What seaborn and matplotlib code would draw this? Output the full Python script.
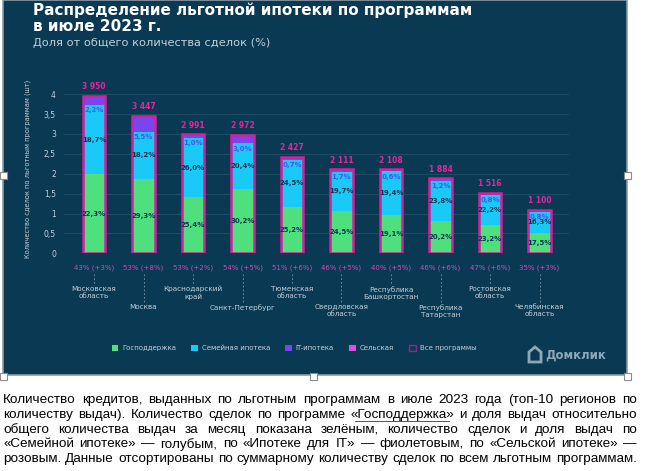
import numpy as np
import pandas as pd
import matplotlib
matplotlib.use("Agg")
import matplotlib.pyplot as plt
from matplotlib.patches import Rectangle, Polygon
from matplotlib.lines import Line2D
import seaborn as sns

# Данные (тыс. сделок)
regions = ["Московская\nобласть", "Москва", "Краснодарский\nкрай", "Санкт-Петербург",
           "Тюменская\nобласть", "Свердловская\nобласть", "Республика\nБашкортостан",
           "Республика\nТатарстан", "Ростовская\nобласть", "Челябинская\nобласть"]
gov = [2.00, 1.87, 1.41, 1.62, 1.16, 1.07, 0.96, 0.80, 0.71, 0.50]
family = [1.72, 1.19, 1.49, 1.14, 1.19, 0.98, 1.10, 1.02, 0.75, 0.55]
it = [0.20, 0.36, 0.07, 0.19, 0.05, 0.04, 0.03, 0.03, 0.03, 0.02]
rural = [0.03, 0.03, 0.02, 0.02, 0.03, 0.02, 0.02, 0.03, 0.03, 0.03]
totals = [3950, 3447, 2991, 2972, 2427, 2111, 2108, 1884, 1516, 1100]

gov_pct = ["22,3%", "29,3%", "25,4%", "30,2%", "25,2%", "24,5%", "19,1%", "20,2%", "23,2%", "17,5%"]
family_pct = ["18,7%", "18,2%", "26,0%", "20,4%", "24,5%", "19,7%", "19,4%", "23,8%", "22,2%", "16,3%"]
it_pct = ["2,2%", "5,5%", "1,0%", "3,0%", "0,7%", "1,7%", "0,6%", "1,2%", "0,8%", "0,8%"]
share = ["43% (+3%)", "53% (+8%)", "53% (+2%)", "54% (+5%)", "51% (+6%)",
         "46% (+5%)", "40% (+5%)", "46% (+6%)", "47% (+6%)", "35% (+3%)"]
yticks = [0, 0.5, 1, 1.5, 2, 2.5, 3, 3.5, 4]
ytick_labels = ["0", "0,5", "1", "1,5", "2", "2,5", "3", "3,5", "4"]

paragraph = [
    "Количество кредитов, выданных по льготным программам в июле 2023 года (топ-10 регионов по",
    "количеству выдач). Количество сделок по программе «Господдержка» и доля выдач относительно",
    "общего количества выдач за месяц показана зелёным, количество сделок и доля выдач по",
    "«Семейной ипотеке» — голубым, по «Ипотеке для IT» — фиолетовым, по «Сельской ипотеке» —",
    "розовым. Данные отсортированы по суммарному количеству сделок по всем льготным программам.",
]

# Цвета
NAVY = "#0a3954"
GREEN = "#4fe07e"
BLUE = "#19c9f7"
PURPLE = "#7a45f0"
PINK = "#e24ce6"
EDGE = "#d1219c"
LIGHT = "#c3cfd8"

W, H = 649, 471


def fx(x):
    return x / W


def fy(y):
    return 1 - y / H


df = pd.DataFrame({"region": regions, "gov": gov, "family": family, "it": it, "rural": rural})
df["total"] = np.array(totals) / 1000
# накопленные уровни для стопки
df["c1"] = df["gov"]
df["c2"] = df["c1"] + df["family"]
df["c3"] = df["c2"] + df["it"]
df["c4"] = df["c3"] + df["rural"]

fig = plt.figure(figsize=(W / 100, H / 100), dpi=100)
fig.patch.set_facecolor("white")

# тёмная подложка картинки
fig.patches.append(Rectangle((fx(3), fy(375)), fx(624), 375 / H, transform=fig.transFigure,
                             facecolor=NAVY, edgecolor="#8d9ba5", lw=1.2, zorder=-10))

# Заголовок
fig.text(fx(33), fy(2), "Распределение льготной ипотеки по программам\nв июле 2023 г.",
         color="white", fontsize=11, fontweight="bold", va="top", ha="left", linespacing=1.15)
fig.text(fx(33), fy(43), "Доля от общего количества сделок (%)", color=LIGHT, fontsize=8.2,
         va="center", ha="left")

ax = fig.add_axes([fx(64.3), fy(253.3), 504.9 / W, 169.1 / H])
ax.set_zorder(2)
ax.set_facecolor("none")

bw = 0.46
for col, c in [("c4", PINK), ("c3", PURPLE), ("c2", BLUE), ("c1", GREEN)]:
    sns.barplot(data=df, x="region", y=col, color=c, saturation=1, width=bw,
                errorbar=None, linewidth=0, ax=ax, zorder=3)
sns.barplot(data=df, x="region", y="total", color=EDGE, fill=False, width=bw,
            errorbar=None, linewidth=1.8, ax=ax, zorder=4)

ax.set_xlim(-0.6, 9.6)
ax.set_ylim(0, 4.25)
ax.set_yticks(yticks)
ax.set_yticklabels(ytick_labels, color=LIGHT, fontsize=5.5)
ax.set_xticks([])
ax.set_xlabel("")
ax.set_ylabel("Количество сделок по льготным программам (шт)", color=LIGHT, fontsize=4.8, labelpad=9)
ax.tick_params(axis="y", length=0, pad=6)
for s in ax.spines.values():
    s.set_visible(False)
ax.grid(axis="y", color="#245069", lw=0.6, zorder=0)
ax.set_axisbelow(True)

for i, row in df.iterrows():
    ax.text(i, row["c4"] + 0.12, f"{totals[i]:,}".replace(",", " "), color="#e3279b",
            fontsize=5.5, fontweight="bold", ha="center", va="bottom")
    ax.text(i, row["c1"] / 2, gov_pct[i], color="#0b3550", fontsize=5, fontweight="bold",
            ha="center", va="center", zorder=5)
    ax.text(i, (row["c1"] + row["c2"]) / 2, family_pct[i], color="#0b3550", fontsize=5,
            fontweight="bold", ha="center", va="center", zorder=5)
    ax.text(i, row["c2"] - 0.13, it_pct[i], color="#4a55e8", fontsize=5, fontweight="bold",
            ha="center", va="center", zorder=5)

# подписи под осью
for i, name in enumerate(regions):
    xpix = 94 + 49.5 * i
    fig.text(fx(xpix), fy(267.5), share[i], color="#c84db8", fontsize=5, ha="center", va="center")
    low = i % 2 == 1
    y_end = 302 if low else 285
    fig.lines.append(Line2D([fx(xpix), fx(xpix)], [fy(274), fy(y_end)], transform=fig.transFigure,
                            color="#7f98a8", lw=0.6, ls=(0, (2, 2.5))))
    fig.text(fx(xpix), fy(304 if low else 286), name, color=LIGHT, fontsize=5.2,
             ha="center", va="top", linespacing=1.2)

# Легенда
handles = [
    Rectangle((0, 0), 1, 1, facecolor=GREEN, edgecolor="none"),
    Rectangle((0, 0), 1, 1, facecolor=BLUE, edgecolor="none"),
    Rectangle((0, 0), 1, 1, facecolor=PURPLE, edgecolor="none"),
    Rectangle((0, 0), 1, 1, facecolor=PINK, edgecolor="none"),
    Rectangle((0, 0), 1, 1, facecolor="none", edgecolor="#9a2387", lw=1),
]
labels = ["Господдержка", "Семейная ипотека", "IT-ипотека", "Сельская", "Все программы"]
leg = fig.legend(handles, labels, loc="center", bbox_to_anchor=(fx(294), fy(348)), ncol=5,
                 frameon=False, fontsize=5, handlelength=0.9, handleheight=0.9,
                 handletextpad=0.6, columnspacing=2.2)
for t in leg.get_texts():
    t.set_color(LIGHT)

# логотип
fig.patches.append(Polygon([(fx(529), fy(362)), (fx(529), fy(352)), (fx(535), fy(347)),
                            (fx(541), fy(352)), (fx(541), fy(362))], closed=True,
                           transform=fig.transFigure, facecolor="none", edgecolor="#8fa8b8", lw=2))
fig.text(fx(545), fy(355), "Домклик", color="#8fa8b8", fontsize=8.5, fontweight="bold",
         ha="left", va="center")

# маркеры выделения картинки
for hx, hy in [(3, 175), (627, 175), (3, 376), (313, 376), (627, 376)]:
    fig.patches.append(Rectangle((fx(hx - 3.5), fy(hy + 3.5)), 7 / W, 7 / H, transform=fig.transFigure,
                                 facecolor="white", edgecolor="#8a8a8a", lw=0.8, zorder=5))

# текст под картинкой, выровненный по ширине
renderer = fig.canvas.get_renderer()
x0, x1 = 3, 637
for k, line in enumerate(paragraph):
    ycen = 400 + 14.8 * k
    words = line.split(" ")
    objs = [fig.text(0, fy(ycen), w, fontsize=9.7, family="Liberation Sans", color="black",
                     va="center", ha="left") for w in words]
    widths = [o.get_window_extent(renderer).width for o in objs]
    gap = (x1 - x0 - sum(widths)) / (len(words) - 1)
    x = x0
    for o, w, wd in zip(objs, words, widths):
        o.set_x(fx(x))
        if "Господдержка" in w:
            fig.lines.append(Line2D([fx(x + 5), fx(x + wd - 5)], [fy(ycen + 6.5), fy(ycen + 6.5)],
                                    transform=fig.transFigure, color="#cc2222", lw=0.7))
        x += wd + gap

fig.savefig("out.png", dpi=100)
